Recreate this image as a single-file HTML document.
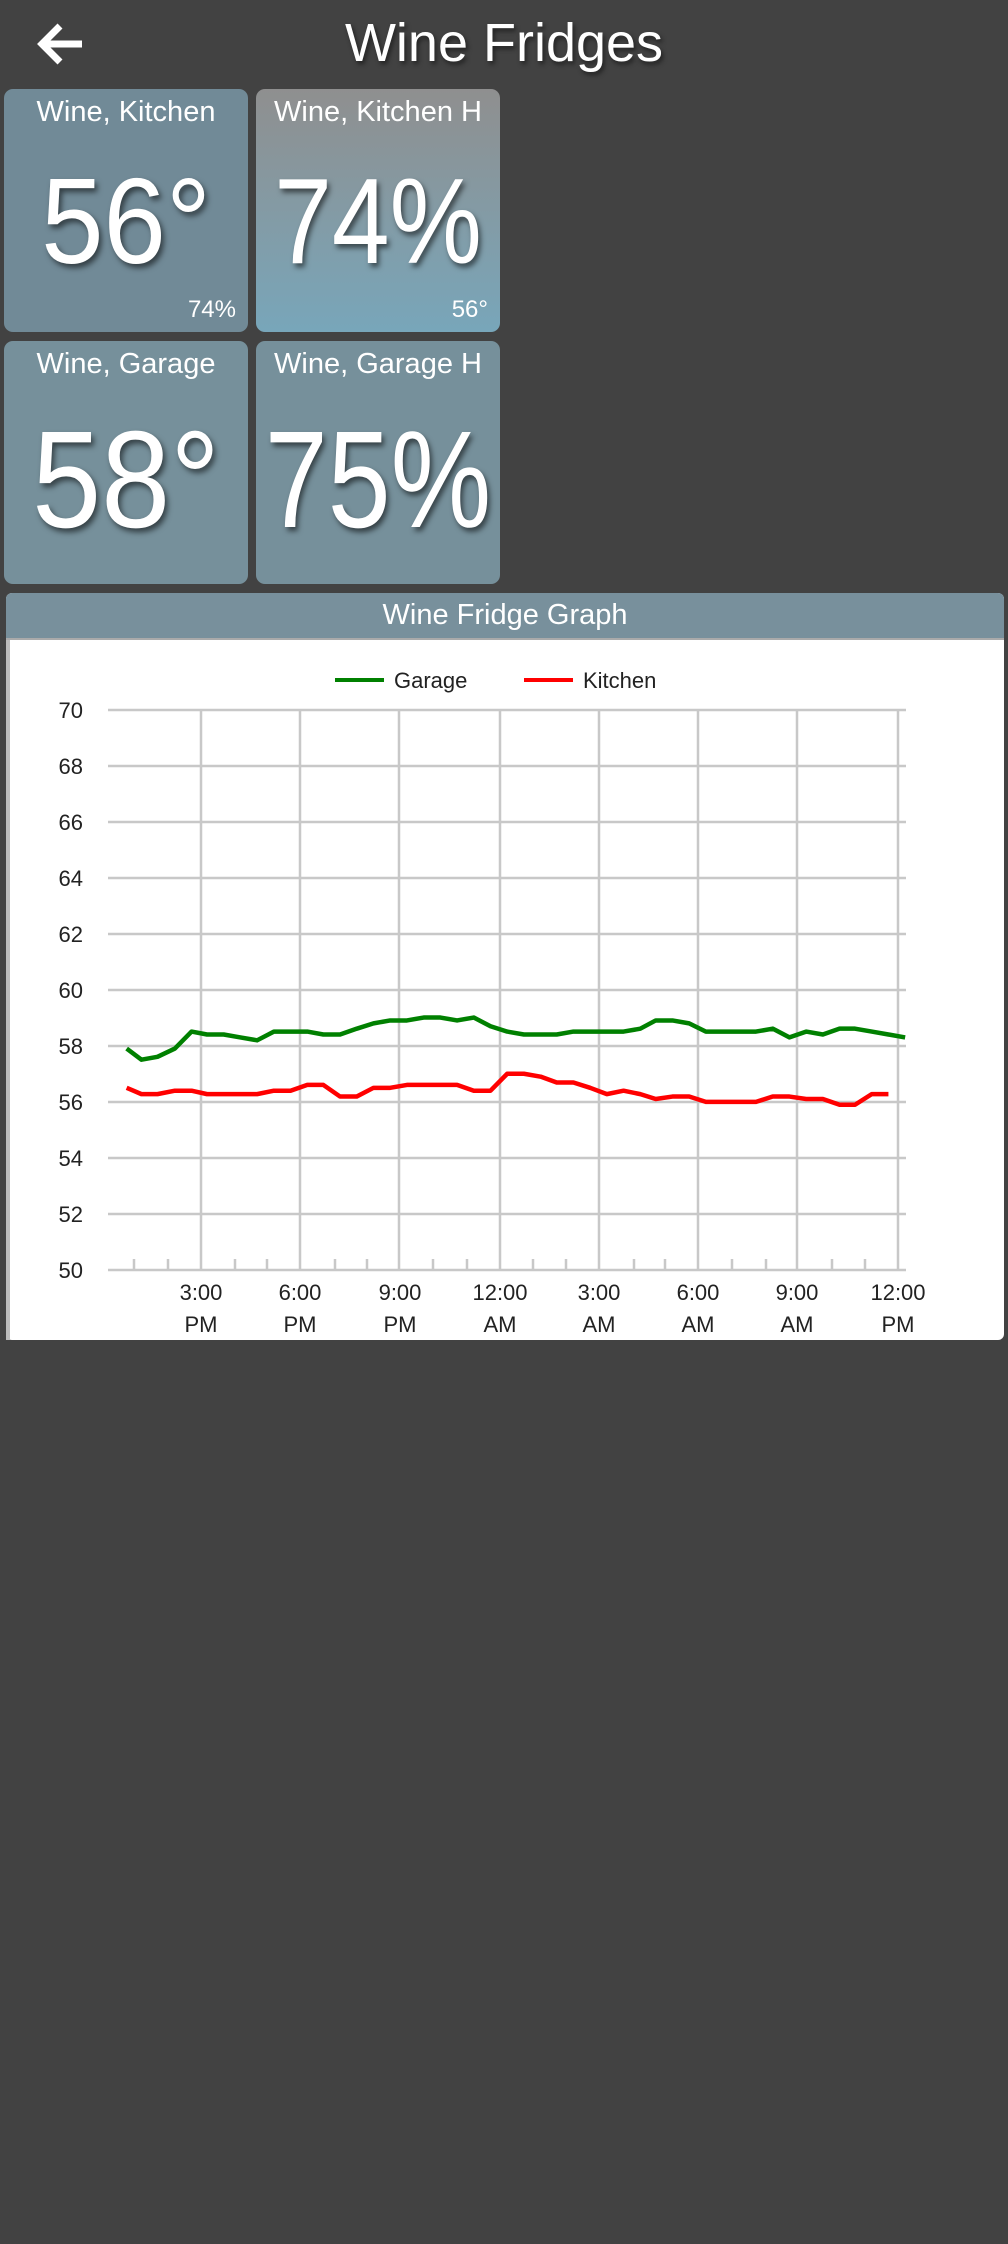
<!DOCTYPE html>
<html><head><meta charset="utf-8"><style>
html,body{margin:0;padding:0;background:#424242;}
body{width:1008px;height:2244px;position:relative;overflow:hidden;font-family:"Liberation Sans",sans-serif;color:#fff;}
.t{position:absolute;border-radius:9px;overflow:hidden;}
.tt{position:absolute;left:0;right:0;text-align:center;font-size:29px;}
.big{position:absolute;left:-120px;right:-120px;text-align:center;text-shadow:3px 4px 6px rgba(0,0,0,.55);white-space:nowrap;}
.sm{position:absolute;right:12px;font-size:24px;}
</style></head><body>
<svg style="position:absolute;left:36px;top:22px" width="50" height="44" viewBox="0 0 50 44"><path d="M24 4 L6 22 L24 40 M6 22 H46" stroke="#fff" stroke-width="7" fill="none"/></svg>
<div style="position:absolute;left:0;right:0;top:12px;text-align:center;font-size:54px;text-shadow:2px 3px 5px rgba(0,0,0,.5)">Wine Fridges</div>

<div class="t" style="left:4px;top:89px;width:244px;height:243px;background:#718a97">
 <div class="tt" style="top:7px">Wine, Kitchen</div>
 <div class="big" style="top:62px;font-size:122px;transform:scaleX(.92)">56°</div>
 <div class="sm" style="top:207px">74%</div></div>
<div class="t" style="left:256px;top:89px;width:244px;height:243px;background:linear-gradient(#8f8f8f,#78a6ba)">
 <div class="tt" style="top:7px">Wine, Kitchen H</div>
 <div class="big" style="top:62px;font-size:122px;transform:scaleX(.85)">74%</div>
 <div class="sm" style="top:207px">56°</div></div>
<div class="t" style="left:4px;top:341px;width:244px;height:243px;background:#76909b">
 <div class="tt" style="top:7px">Wine, Garage</div>
 <div class="big" style="top:60px;font-size:138px;transform:scaleX(.9)">58°</div></div>
<div class="t" style="left:256px;top:341px;width:244px;height:243px;background:#76909b">
 <div class="tt" style="top:7px">Wine, Garage H</div>
 <div class="big" style="top:60px;font-size:138px;transform:scaleX(.82)">75%</div></div>

<div class="t" style="left:6px;top:593px;width:998px;height:747px;background:#fff;border-radius:6px">
 <div style="height:45px;background:#78909c;text-align:center;font-size:29px;line-height:44px;border-bottom:2px solid #aaa">Wine Fridge Graph</div>
</div>
<div style="position:absolute;left:6px;top:640px;width:4px;height:700px;background:#bbb"></div>

<svg style="position:absolute;left:0;top:0" width="1008" height="2244">
<g stroke="#c8c8c8" stroke-width="2.5">
<line x1="108" x2="906" y1="710" y2="710"/><line x1="108" x2="906" y1="766" y2="766"/><line x1="108" x2="906" y1="822" y2="822"/><line x1="108" x2="906" y1="878" y2="878"/><line x1="108" x2="906" y1="934" y2="934"/><line x1="108" x2="906" y1="990" y2="990"/><line x1="108" x2="906" y1="1046" y2="1046"/><line x1="108" x2="906" y1="1102" y2="1102"/><line x1="108" x2="906" y1="1158" y2="1158"/><line x1="108" x2="906" y1="1214" y2="1214"/><line x1="108" x2="906" y1="1270" y2="1270"/>
<line x1="201" x2="201" y1="710" y2="1270"/><line x1="300" x2="300" y1="710" y2="1270"/><line x1="399" x2="399" y1="710" y2="1270"/><line x1="500" x2="500" y1="710" y2="1270"/><line x1="599" x2="599" y1="710" y2="1270"/><line x1="698" x2="698" y1="710" y2="1270"/><line x1="797" x2="797" y1="710" y2="1270"/><line x1="898" x2="898" y1="710" y2="1270"/>
<path d="M134 1259V1270M168 1259V1270M235 1259V1270M267 1259V1270M335 1259V1270M367 1259V1270M433 1259V1270M467 1259V1270M533 1259V1270M566 1259V1270M634 1259V1270M665 1259V1270M732 1259V1270M766 1259V1270M832 1259V1270M865 1259V1270"/>
</g>
<g font-size="22" fill="#222" text-anchor="end">
<text x="83" y="718">70</text><text x="83" y="774">68</text><text x="83" y="830">66</text><text x="83" y="886">64</text><text x="83" y="942">62</text><text x="83" y="998">60</text><text x="83" y="1054">58</text><text x="83" y="1110">56</text><text x="83" y="1166">54</text><text x="83" y="1222">52</text><text x="83" y="1278">50</text>
</g>
<g font-size="22" fill="#222" text-anchor="middle">
<text x="201" y="1300">3:00</text><text x="201" y="1332">PM</text>
<text x="300" y="1300">6:00</text><text x="300" y="1332">PM</text>
<text x="400" y="1300">9:00</text><text x="400" y="1332">PM</text>
<text x="500" y="1300">12:00</text><text x="500" y="1332">AM</text>
<text x="599" y="1300">3:00</text><text x="599" y="1332">AM</text>
<text x="698" y="1300">6:00</text><text x="698" y="1332">AM</text>
<text x="797" y="1300">9:00</text><text x="797" y="1332">AM</text>
<text x="898" y="1300">12:00</text><text x="898" y="1332">PM</text>
</g>
<line x1="335" x2="384" y1="680" y2="680" stroke="#008000" stroke-width="4"/>
<text x="394" y="688" font-size="22" fill="#222">Garage</text>
<line x1="524" x2="573" y1="680" y2="680" stroke="#ff0000" stroke-width="4"/>
<text x="583" y="688" font-size="22" fill="#222">Kitchen</text>
<g transform="translate(0,590) scale(0.64286,0.48473)" fill="none" stroke-width="4.5" stroke-linejoin="round">
<polyline vector-effect="non-scaling-stroke" stroke="#ff0000" points="197,1027 220,1040 245,1040 272,1033 298,1033 322,1040 348,1040 374,1040 400,1040 426,1033 452,1033 478,1021 503,1021 529,1045 555,1045 581,1027 607,1027 633,1021 659,1021 685,1021 711,1021 737,1033 763,1033 789,998 815,998 841,1004 866,1016 892,1016 918,1027 944,1040 970,1033 996,1040 1020,1050 1046,1045 1072,1045 1098,1056 1124,1056 1150,1056 1176,1056 1202,1045 1228,1045 1254,1050 1280,1050 1306,1062 1330,1062 1356,1040 1382,1040"/>
<polyline vector-effect="non-scaling-stroke" stroke="#008000" points="197,946 220,969 245,963 272,946 298,911 322,917 348,917 374,923 400,929 426,911 452,911 478,911 503,917 529,917 555,905 581,894 607,888 633,888 659,882 685,882 711,888 737,882 763,900 789,911 815,917 841,917 866,917 892,911 918,911 944,911 970,911 996,905 1020,888 1046,888 1072,894 1098,911 1124,911 1150,911 1176,911 1202,905 1228,923 1254,911 1280,917 1306,905 1330,905 1356,911 1382,917 1408,923"/>
</g>
</svg>
</body></html>
